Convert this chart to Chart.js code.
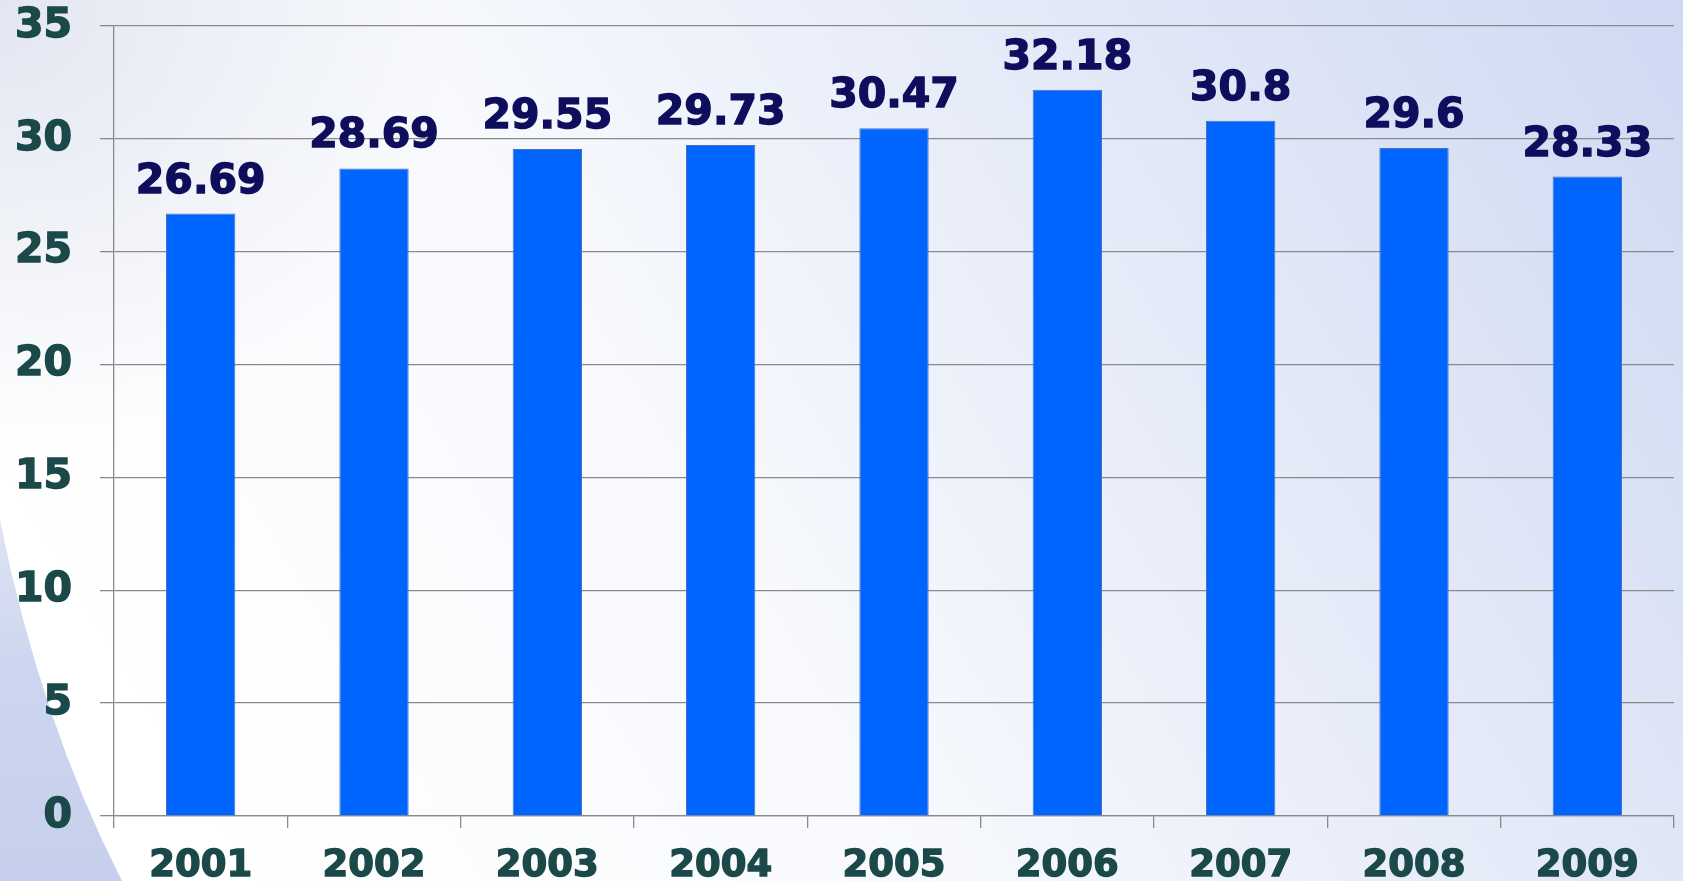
<!DOCTYPE html>
<html>
<head>
<meta charset="utf-8">
<title>2001-2009</title>
<script src="https://cdn.jsdelivr.net/npm/chart.js@4.4.0/dist/chart.umd.min.js"></script>
<style>
  html, body { margin: 0; padding: 0; overflow: hidden; }
  #wrap { width: 1683px; height: 881px; position: relative; }
</style>
</head>
<body>
<div id="wrap"><canvas id="graphs"></canvas></div>
<script>
// yearly values
const years = ['2001', '2002', '2003', '2004', '2005', '2006', '2007', '2008', '2009'];
const values = [26.69, 28.69, 29.55, 29.73, 30.47, 32.18, 30.8, 29.6, 28.33];
const valueLabels = ['26.69', '28.69', '29.55', '29.73', '30.47', '32.18', '30.8', '29.6', '28.33'];

const yMin = 0;
const yMax = 35;
const yStep = 5;

const FONT = "'DejaVu Sans', Verdana, sans-serif";
const TICK_COLOR = '#1b4848';

// slide style backdrop: pale blue wash plus the curved band at bottom left
const backdrop = {
  id: 'backdrop',
  beforeDraw(chart) {
    const ctx = chart.ctx;
    const w = chart.width, h = chart.height;
    ctx.save();
    let g = ctx.createLinearGradient(250, h, w, 0);
    g.addColorStop(0, '#ffffff');
    g.addColorStop(0.35, '#f7f9fd');
    g.addColorStop(1, '#cfd9f2');
    ctx.fillStyle = g;
    ctx.fillRect(0, 0, w, h);

    // soft grey tint in the top left corner
    let g2 = ctx.createRadialGradient(0, 0, 0, 0, 0, 450);
    g2.addColorStop(0, 'rgba(224,228,240,0.9)');
    g2.addColorStop(1, 'rgba(224,228,240,0)');
    ctx.fillStyle = g2;
    ctx.fillRect(0, 0, w, h);

    // band on the left edge
    ctx.beginPath();
    ctx.moveTo(0, 520);
    ctx.quadraticCurveTo(40, 720, 122, h);
    ctx.lineTo(0, h);
    ctx.closePath();
    let g3 = ctx.createLinearGradient(0, 520, 0, h);
    g3.addColorStop(0, '#dfe4f4');
    g3.addColorStop(0.4, '#cdd6ef');
    g3.addColorStop(1, '#c6d0ec');
    ctx.fillStyle = g3;
    ctx.fill();
    ctx.restore();
  }
};

// value printed above every bar
const barValues = {
  id: 'barValues',
  afterDatasetsDraw(chart) {
    const ctx = chart.ctx;
    const meta = chart.getDatasetMeta(0);
    ctx.save();
    ctx.font = "bold 41px " + FONT;
    ctx.fillStyle = '#0e0e5c';
    ctx.strokeStyle = '#0e0e5c';
    ctx.lineWidth = 1.4;
    ctx.textAlign = 'center';
    ctx.textBaseline = 'alphabetic';
    meta.data.forEach(function(bar, i) {
      ctx.fillText(valueLabels[i], bar.x, bar.y - 21);
      ctx.strokeText(valueLabels[i], bar.x, bar.y - 21);
    });
    ctx.restore();
  }
};

new Chart(document.getElementById('graphs'), {
  type: 'bar',
  data: {
    labels: years,
    datasets: [{
      data: values,
      backgroundColor: '#0064ff',
      borderColor: '#4d6fb5',
      borderWidth: 1,
      barPercentage: 0.4,
      categoryPercentage: 1.0
    }]
  },
  options: {
    responsive: true,
    maintainAspectRatio: false,
    animation: false,
    layout: { padding: { left: 0, top: 26, right: 9, bottom: 0 } },
    plugins: {
      legend: { display: false },
      tooltip: { enabled: false }
    },
    scales: {
      x: {
        grid: {
          offset: true,
          drawOnChartArea: false,
          drawTicks: true,
          tickLength: 12,
          color: '#8a8a8a',
          lineWidth: 1.3
        },
        border: { color: '#8a8a8a', width: 1.3 },
        ticks: {
          color: TICK_COLOR,
          textStrokeColor: TICK_COLOR,
          textStrokeWidth: 1.4,
          font: { family: FONT, size: 37, weight: 'bold' },
          padding: 16,
          maxRotation: 0
        },
        afterFit(scale) { scale.height = 65; }
      },
      y: {
        min: yMin,
        max: yMax,
        grid: {
          color: '#8a8a8a',
          lineWidth: 1.3,
          tickLength: 14
        },
        border: { color: '#8a8a8a', width: 1.3 },
        ticks: {
          stepSize: yStep,
          color: TICK_COLOR,
          textStrokeColor: TICK_COLOR,
          textStrokeWidth: 1.4,
          font: { family: FONT, size: 41, weight: 'bold' },
          padding: 28
        },
        afterFit(scale) {
          scale.width = 114;
          // let the outer labels hang over the plot edges
          scale.paddingTop = 0;
          scale.paddingBottom = 0;
        }
      }
    }
  },
  plugins: [backdrop, barValues]
});
</script>
</body>
</html>
